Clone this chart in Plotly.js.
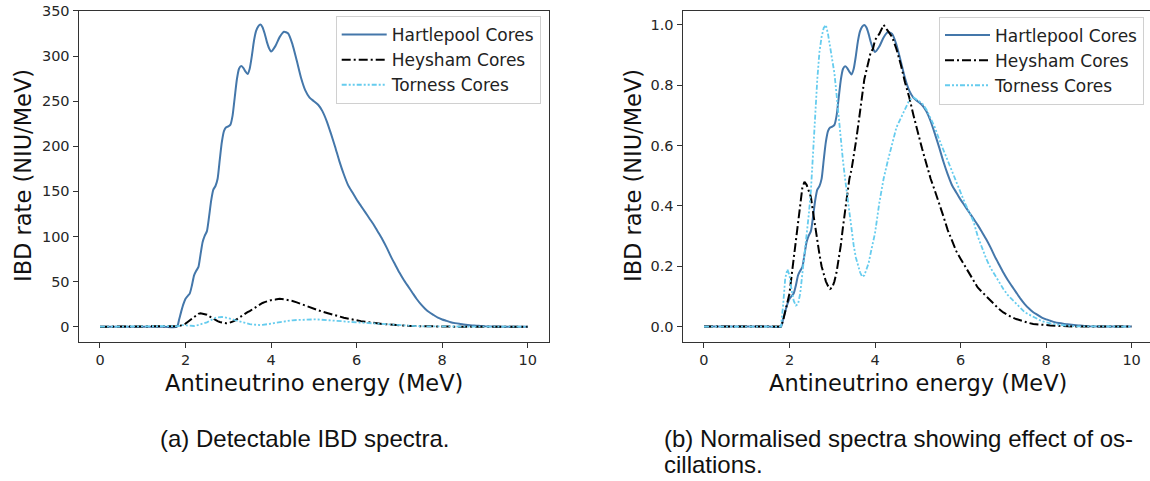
<!DOCTYPE html>
<html><head><meta charset="utf-8">
<script src="https://cdn.plot.ly/plotly-3.0.1.min.js"></script>
<style>html,body{margin:0;padding:0;background:#fff;} #chart{width:1150px;height:481px;}</style>
</head><body><div id="chart"></div>
<script>
// Antineutrino energy grid (MeV)
const energy = [0, 0.5, 1, 1.5, 1.8, 1.85, 1.9, 1.95, 2, 2.05, 2.1, 2.15, 2.2, 2.25, 2.3, 2.35, 2.4, 2.45, 2.5, 2.55, 2.6, 2.65, 2.7, 2.75, 2.8, 2.85, 2.9, 2.95, 3, 3.05, 3.1, 3.15, 3.2, 3.25, 3.3, 3.35, 3.4, 3.45, 3.5, 3.55, 3.6, 3.65, 3.7, 3.75, 3.8, 3.85, 3.9, 3.95, 4, 4.1, 4.2, 4.3, 4.4, 4.5, 4.6, 4.7, 4.8, 4.9, 5, 5.1, 5.2, 5.3, 5.4, 5.5, 5.6, 5.7, 5.8, 5.9, 6, 6.1, 6.2, 6.3, 6.4, 6.5, 6.6, 6.7, 6.8, 6.9, 7, 7.1, 7.2, 7.3, 7.4, 7.5, 7.6, 7.7, 7.8, 7.9, 8, 8.1, 8.2, 8.3, 8.4, 8.5, 8.6, 8.7, 8.8, 8.9, 9, 9.5, 10];

// Hartlepool detectable IBD rate (NIU/MeV)
const hartlepoolRate = [0, 0, 0, 0, 0, 8, 17, 25, 31, 34, 37, 46, 57, 62, 66, 80, 94, 101, 106, 122, 140, 152, 156, 164, 185, 205, 217, 221, 222, 224, 234, 254, 274, 286, 289, 287, 283, 280, 286, 300, 317, 328, 333, 335, 332, 325, 316, 309, 305, 311, 321, 327, 325, 313, 295, 276, 262, 254, 250, 246, 239, 228, 214, 199, 183, 169, 157, 149, 141, 134, 127, 120, 113, 105, 97, 88, 78, 69, 60, 52, 45, 38, 31, 25, 20, 16, 13, 10, 8, 6.5, 5, 4, 3.2, 2.6, 2, 1.5, 1.1, 0.8, 0.5, 0.1, 0];

// Heysham spectrum, normalised to its maximum
const heyshamNorm = [0, 0, 0, 0, 0, 0.02, 0.05, 0.08, 0.11, 0.17, 0.23, 0.29, 0.36, 0.42, 0.46, 0.48, 0.47, 0.45, 0.43, 0.38, 0.33, 0.28, 0.24, 0.20, 0.17, 0.15, 0.135, 0.125, 0.13, 0.15, 0.18, 0.22, 0.27, 0.33, 0.39, 0.45, 0.49, 0.52, 0.56, 0.61, 0.66, 0.71, 0.76, 0.82, 0.85, 0.88, 0.91, 0.92, 0.95, 0.97, 1.0, 0.98, 0.96, 0.92, 0.87, 0.81, 0.76, 0.70, 0.64, 0.59, 0.54, 0.49, 0.45, 0.41, 0.365, 0.32, 0.285, 0.25, 0.225, 0.2, 0.175, 0.15, 0.13, 0.115, 0.1, 0.088, 0.072, 0.058, 0.047, 0.038, 0.031, 0.025, 0.02, 0.016, 0.012, 0.009, 0.007, 0.006, 0.005, 0.004, 0.003, 0.002, 0.002, 0.001, 0.001, 0, 0, 0, 0, 0, 0];

// Torness spectrum, normalised to its maximum
const tornessNorm = [0, 0, 0, 0, 0, 0.07, 0.16, 0.19, 0.17, 0.12, 0.085, 0.07, 0.075, 0.11, 0.17, 0.24, 0.30, 0.37, 0.45, 0.58, 0.71, 0.82, 0.91, 0.96, 0.99, 1.0, 0.97, 0.93, 0.89, 0.84, 0.77, 0.69, 0.62, 0.55, 0.49, 0.43, 0.37, 0.32, 0.27, 0.23, 0.2, 0.18, 0.165, 0.17, 0.19, 0.21, 0.245, 0.28, 0.31, 0.41, 0.49, 0.55, 0.61, 0.66, 0.69, 0.72, 0.75, 0.76, 0.75, 0.74, 0.72, 0.69, 0.66, 0.62, 0.585, 0.55, 0.51, 0.48, 0.445, 0.41, 0.38, 0.35, 0.30, 0.26, 0.225, 0.195, 0.17, 0.15, 0.125, 0.105, 0.09, 0.075, 0.06, 0.048, 0.04, 0.032, 0.024, 0.018, 0.014, 0.01, 0.008, 0.006, 0.004, 0.003, 0.002, 0.001, 0.001, 0, 0, 0, 0];

// Peak rates (NIU/MeV) of the two smaller spectra
const heyshamPeakRate = 31;
const tornessPeakRate = 10.8;

const seriesNames = ['Hartlepool Cores', 'Heysham Cores', 'Torness Cores'];
const xTickVals = [0, 2, 4, 6, 8, 10];
const rateTickVals = [0, 50, 100, 150, 200, 250, 300, 350];
const normTickVals = [0, 0.2, 0.4, 0.6, 0.8, 1.0];
const xTitle = 'Antineutrino energy (MeV)';
const yTitle = 'IBD rate (NIU/MeV)';
const captionA = '(a) Detectable IBD spectra.';
const captionB1 = '(b) Normalised spectra showing effect of os-';
const captionB2 = 'cillations.';

// ---- derived series ----
const hartMax = Math.max.apply(null, hartlepoolRate);
const hartlepoolNorm = hartlepoolRate.map(v => v / hartMax);
const heyshamRate = heyshamNorm.map(v => v * heyshamPeakRate);
const tornessRate = tornessNorm.map(v => v * tornessPeakRate);

const W = 1150, H = 481;
const px = x => x / W;
const py = y => 1 - y / H;

const styles = [
  {color: '#4477AA', width: 2, dash: 'solid', shape: 'spline', smoothing: 0.6},
  {color: '#000000', width: 2, dash: '9px,3px,2px,3px', shape: 'linear'},
  {color: '#66CCEE', width: 1.8, dash: '5px,2px,2px,2px,2px,2px', shape: 'linear'}
];

function mk(y, i, xa, ya, leg) {
  const s = styles[i];
  const line = {color: s.color, width: s.width, dash: s.dash, shape: s.shape};
  if (s.smoothing) line.smoothing = s.smoothing;
  return {x: energy, y: y, type: 'scatter', mode: 'lines', name: seriesNames[i],
          line: line, xaxis: xa, yaxis: ya, legend: leg, hoverinfo: 'skip'};
}

const data = [
  mk(hartlepoolRate, 0, 'x', 'y', 'legend'),
  mk(heyshamRate, 1, 'x', 'y', 'legend'),
  mk(tornessRate, 2, 'x', 'y', 'legend'),
  mk(hartlepoolNorm, 0, 'x2', 'y2', 'legend2'),
  mk(heyshamNorm, 1, 'x2', 'y2', 'legend2'),
  mk(tornessNorm, 2, 'x2', 'y2', 'legend2')
];

const tickFont = {family: 'DejaVu Sans', size: 14.5, color: '#262626'};
const axBase = {
  ticks: 'outside', ticklen: 5, tickwidth: 1, tickcolor: '#333',
  showline: true, mirror: true, linecolor: '#333', linewidth: 1.1,
  showgrid: false, zeroline: false, tickfont: tickFont, fixedrange: true
};
const yDomain = [py(341.7), py(10.7)];
const legendBase = {
  font: {family: 'DejaVu Sans', size: 17, color: '#222'},
  bgcolor: 'rgba(255,255,255,0.85)', bordercolor: '#d0d0d0', borderwidth: 1,
  xanchor: 'right', yanchor: 'top', itemwidth: 45, tracegroupgap: 0
};
const titleFont = {family: 'DejaVu Sans', size: 22.5, color: '#111'};
const capFont = {family: "'Liberation Sans', Arial, sans-serif", size: 24, color: '#111'};

const layout = {
  width: W, height: H,
  margin: {l: 0, r: 0, t: 0, b: 0, pad: 0},
  paper_bgcolor: '#fff', plot_bgcolor: '#fff',
  showlegend: true,
  xaxis: Object.assign({}, axBase, {domain: [px(78.6), px(549.1)], range: [-0.5, 10.5], tickvals: xTickVals, anchor: 'y'}),
  yaxis: Object.assign({}, axBase, {domain: yDomain, range: [-16.6, 350.3], tickvals: rateTickVals, anchor: 'x'}),
  xaxis2: Object.assign({}, axBase, {domain: [px(682.6), 1], range: [-0.5, 10.43], tickvals: xTickVals, anchor: 'y2'}),
  yaxis2: Object.assign({}, axBase, {domain: yDomain, range: [-0.05, 1.047], tickvals: normTickVals, tickformat: '.1f', anchor: 'x2'}),
  legend: Object.assign({}, legendBase, {x: px(540.7), y: py(16)}),
  legend2: Object.assign({}, legendBase, {x: px(1144), y: py(16.5)}),
  annotations: [
    {text: xTitle, xref: 'paper', yref: 'paper', x: px(314), y: py(383), xanchor: 'center', yanchor: 'middle', showarrow: false, font: titleFont},
    {text: xTitle, xref: 'paper', yref: 'paper', x: px(918), y: py(383), xanchor: 'center', yanchor: 'middle', showarrow: false, font: titleFont},
    {text: yTitle, xref: 'paper', yref: 'paper', x: px(23), y: py(176), xanchor: 'center', yanchor: 'middle', textangle: -90, showarrow: false, font: titleFont},
    {text: yTitle, xref: 'paper', yref: 'paper', x: px(633), y: py(176), xanchor: 'center', yanchor: 'middle', textangle: -90, showarrow: false, font: titleFont},
    {text: captionA, xref: 'paper', yref: 'paper', x: px(158), y: py(438), xanchor: 'left', yanchor: 'middle', showarrow: false, font: capFont},
    {text: captionB1, xref: 'paper', yref: 'paper', x: px(662), y: py(438), xanchor: 'left', yanchor: 'middle', showarrow: false, font: capFont},
    {text: captionB2, xref: 'paper', yref: 'paper', x: px(662), y: py(464), xanchor: 'left', yanchor: 'middle', showarrow: false, font: capFont}
  ]
};

Plotly.newPlot('chart', data, layout, {staticPlot: true, displayModeBar: false});
</script>
</body></html>
